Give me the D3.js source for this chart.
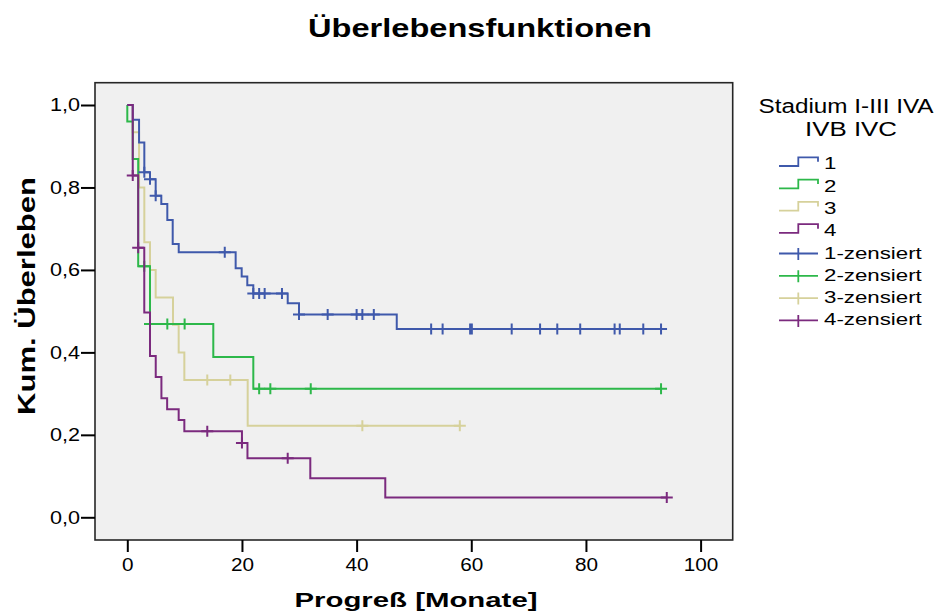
<!DOCTYPE html>
<html>
<head>
<meta charset="utf-8">
<script src="https://cdn.jsdelivr.net/npm/d3@7"></script>
<style>
  body { margin: 0; background: #ffffff; }
  svg text { font-family: "Liberation Sans", Arial, sans-serif; fill: #000; }
</style>
</head>
<body>
<svg id="chart" width="945" height="616"></svg>
<script>
// Kaplan-Meier curves: progression-free survival by tumour stage
const groupNames = ["1", "2", "3", "4"];
const groupColors = ["#3f59ab", "#2db84a", "#d6d19b", "#7b2a7e"];

// Stage 1: event times (months), survival after each event, censored times
const times1 = [0.95, 2.05, 2.97, 3.96, 4.95, 5.93, 6.98, 7.92, 8.97, 18.9, 19.95, 20.93, 21.98, 27.98, 29.95, 47.0];
const surv1  = [0.964, 0.909, 0.837, 0.820, 0.780, 0.760, 0.721, 0.663, 0.643, 0.604, 0.584, 0.563, 0.543, 0.519, 0.492, 0.457];
const cens1  = [2.97, 3.96, 4.95, 17.0, 21.98, 23.0, 23.96, 26.98, 29.95, 34.95, 40.0, 41.0, 43.0,
                53.0, 55.0, 59.8, 60.1, 67.05, 72.0, 75.0, 79.0, 85.0, 85.9, 90.0, 93.1];

// Stage 2
const times2 = [0.0, 0.95, 1.9, 3.96, 15.0, 21.98];
const surv2  = [0.960, 0.869, 0.609, 0.469, 0.389, 0.312];
const cens2  = [2.96, 3.96, 6.98, 10.0, 23.0, 24.95, 32.0, 93.1];

// Stage 3
const times3 = [0.95, 2.05, 2.97, 3.96, 4.95, 7.97, 8.96, 9.95, 21.0];
const surv3  = [0.934, 0.800, 0.667, 0.600, 0.533, 0.467, 0.400, 0.333, 0.222];
const cens3  = [13.95, 17.97, 41.0, 58.0];

// Stage 4
const times4 = [0.95, 1.9, 2.96, 3.96, 4.96, 5.95, 6.95, 8.96, 9.95, 20.0, 20.96, 31.92, 45.0];
const surv4  = [0.829, 0.654, 0.497, 0.391, 0.340, 0.289, 0.262, 0.236, 0.209, 0.180, 0.143, 0.095, 0.048];
const cens4  = [0.95, 1.9, 13.95, 20.0, 27.98, 94.1];

const xTicks = [0, 20, 40, 60, 80, 100];
const yTicks = [0, 0.2, 0.4, 0.6, 0.8, 1.0];

const legendTitle = ["Stadium I-III IVA", "IVB IVC"];
const censorSuffix = "-zensiert";

const series = [
  { name: groupNames[0], color: groupColors[0], times: times1, surv: surv1, cens: cens1 },
  { name: groupNames[1], color: groupColors[1], times: times2, surv: surv2, cens: cens2 },
  { name: groupNames[2], color: groupColors[2], times: times3, surv: surv3, cens: cens3 },
  { name: groupNames[3], color: groupColors[3], times: times4, surv: surv4, cens: cens4 }
];

const svg = d3.select("#chart");

// stretch text horizontally along its own direction
function widen(sel, k) {
  sel.each(function () {
    const w = this.getComputedTextLength();
    d3.select(this).attr("textLength", w * k).attr("lengthAdjust", "spacingAndGlyphs");
  });
}

// plot frame
const frame = { left: 95, top: 82.7, right: 732.7, bottom: 540 };
svg.append("rect")
  .attr("x", frame.left).attr("y", frame.top)
  .attr("width", frame.right - frame.left).attr("height", frame.bottom - frame.top)
  .attr("fill", "#f0f0f0");

const x = d3.scaleLinear().domain([0, 100]).range([127.3, 700.6]);
const y = d3.scaleLinear().domain([0, 1]).range([517.3, 105]);

const commaFmt = d => d3.format(".1f")(d).replace(".", ",");

// survival value at time t (after any event at t)
function survAt(s, t) {
  let v = 1;
  for (let i = 0; i < s.times.length; i++) if (s.times[i] <= t + 1e-9) v = s.surv[i];
  return v;
}

const stepLine = d3.line().x(d => x(d[0])).y(d => y(d[1])).curve(d3.curveStepAfter);

const drawOrder = [2, 1, 0, 3];
const curves = svg.append("g");
drawOrder.forEach(i => {
  const s = series[i];
  const tEnd = Math.max(d3.max(s.times), d3.max(s.cens));
  const pts = [[0, 1]];
  s.times.forEach((t, j) => pts.push([t, s.surv[j]]));
  pts.push([tEnd, s.surv[s.surv.length - 1]]);
  const g = curves.append("g");
  g.append("path")
    .attr("d", stepLine(pts))
    .attr("fill", "none")
    .attr("stroke", s.color)
    .attr("stroke-width", 2);
  g.selectAll("path.cens")
    .data(s.cens)
    .join("path")
    .attr("class", "cens")
    .attr("d", t => {
      const cx = x(t), cy = y(survAt(s, t));
      return `M${cx - 6},${cy}H${cx + 6}M${cx},${cy - 5.5}V${cy + 5.5}`;
    })
    .attr("fill", "none")
    .attr("stroke", s.color)
    .attr("stroke-width", 2);
});

// frame border drawn over the curves
svg.append("rect")
  .attr("x", frame.left).attr("y", frame.top)
  .attr("width", frame.right - frame.left).attr("height", frame.bottom - frame.top)
  .attr("fill", "none")
  .attr("stroke", "#262626")
  .attr("stroke-width", 1.6);

// axes
const yAxis = svg.append("g")
  .attr("transform", `translate(${frame.left},0)`)
  .call(d3.axisLeft(y).tickValues(yTicks).tickFormat(commaFmt).tickSize(14).tickPadding(1));
const xAxis = svg.append("g")
  .attr("transform", `translate(0,${frame.bottom})`)
  .call(d3.axisBottom(x).tickValues(xTicks).tickFormat(d3.format("d")).tickSize(12).tickPadding(6));
[yAxis, xAxis].forEach(ax => {
  ax.select(".domain").remove();
  ax.selectAll(".tick line").attr("stroke", "#000").attr("stroke-width", 2);
  ax.selectAll(".tick text")
    .attr("font-family", "Liberation Sans, Arial, sans-serif")
    .attr("font-size", 18)
    .attr("fill", "#000");
});
widen(yAxis.selectAll(".tick text"), 1.2);
widen(xAxis.selectAll(".tick text"), 1.15);

// titles
svg.append("text")
  .attr("x", 480).attr("y", 37)
  .attr("text-anchor", "middle")
  .attr("font-size", 26).attr("font-weight", "bold")
  .attr("textLength", 344).attr("lengthAdjust", "spacingAndGlyphs")
  .text("Überlebensfunktionen");

svg.append("text")
  .attr("x", 416).attr("y", 607)
  .attr("text-anchor", "middle")
  .attr("font-size", 20).attr("font-weight", "bold")
  .attr("textLength", 243).attr("lengthAdjust", "spacingAndGlyphs")
  .text("Progreß [Monate]");

svg.append("text")
  .attr("transform", "translate(35,296) rotate(-90)")
  .attr("text-anchor", "middle")
  .attr("font-size", 23).attr("font-weight", "bold")
  .attr("textLength", 238).attr("lengthAdjust", "spacingAndGlyphs")
  .text("Kum. Überleben");

// legend
const legend = svg.append("g");
legend.append("text")
  .attr("x", 846).attr("y", 113).attr("text-anchor", "middle")
  .attr("font-size", 19.5)
  .attr("textLength", 175).attr("lengthAdjust", "spacingAndGlyphs")
  .text(legendTitle[0]);
legend.append("text")
  .attr("x", 851).attr("y", 135.5).attr("text-anchor", "middle")
  .attr("font-size", 19.5)
  .attr("textLength", 92).attr("lengthAdjust", "spacingAndGlyphs")
  .text(legendTitle[1]);

const rowBase = 169.3, rowStep = 22.3;
const legendRows = [];
series.forEach(s => legendRows.push({ label: s.name, color: s.color, kind: "step" }));
series.forEach(s => legendRows.push({ label: s.name + censorSuffix, color: s.color, kind: "cens" }));

legendRows.forEach((r, i) => {
  const b = rowBase + i * rowStep;
  const d = r.kind === "step"
    ? `M779,${b - 3.3}H798.3V${b - 12}H818V${b - 7.5}`
    : `M779,${b - 5}H818M798.3,${b - 10.5}V${b + 1.5}`;
  legend.append("path")
    .attr("d", d)
    .attr("fill", "none")
    .attr("stroke", r.color)
    .attr("stroke-width", 1.8);
  const t = legend.append("text")
    .attr("x", 824).attr("y", b)
    .attr("font-size", 16.5)
    .text(r.label);
  widen(t, 1.35);
});
</script>
</body>
</html>
